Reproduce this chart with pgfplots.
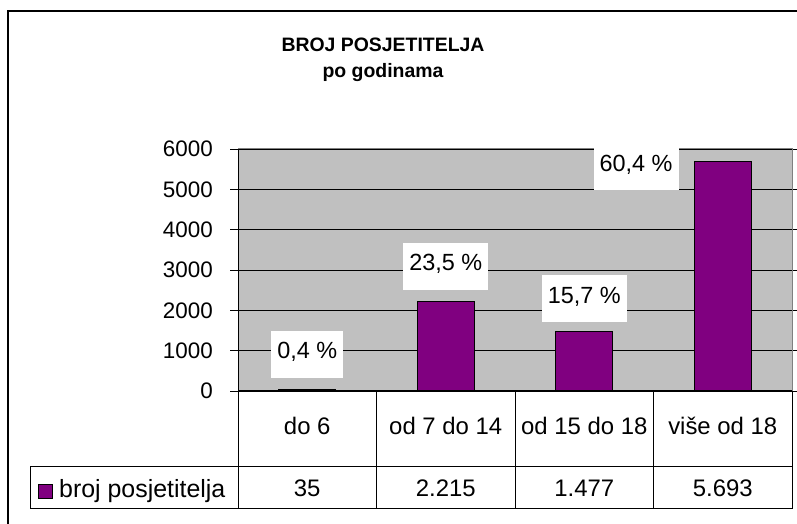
\documentclass[border=0pt]{standalone}
\usepackage{pgfplots}
\pgfplotsset{compat=1.18}
\usepackage{fontspec}
\setmainfont{Liberation Sans}
\definecolor{plotgray}{HTML}{C0C0C0}
\definecolor{barpurple}{HTML}{800080}
\definecolor{bordergray}{HTML}{808080}
\begin{document}
\begin{tikzpicture}[x=1bp,y=1bp]
\useasboundingbox (0,0) rectangle (797,524);
\begin{scope}
\clip (0,0) rectangle (797,524);
\draw[line width=2.4bp] (8,-5) -- (8,513) -- (810,513);
\end{scope}
\node[anchor=base, font=\fontsize{19.5}{22}\selectfont\bfseries] at (383,472) {BROJ POSJETITELJA};
\node[anchor=base, font=\fontsize{19.5}{22}\selectfont\bfseries] at (383,446) {po godinama};
\begin{axis}[
  at={(238bp,133bp)}, anchor=south west,
  scale only axis, width=554bp, height=242bp,
  xmin=-0.5, xmax=3.5, ymin=0, ymax=6000,
  ytick={0,1000,...,6000},
  xtick=\empty,
  tick align=outside,
  major tick length=8bp,
  ytick style={black, line width=0.8bp},
  yticklabel style={font=\fontsize{22.5}{25}\selectfont, anchor=east, inner sep=0pt, xshift=-17bp},
  /pgf/number format/assume math mode=true,
  /pgf/number format/set thousands separator={},
  axis background/.style={fill=plotgray},
  axis line style={bordergray, line width=1bp},
  ymajorgrids, major grid style={black, line width=0.8bp},
  clip=false,
]
\addplot[ybar, bar width=57bp, fill=barpurple, draw=black, line width=1.2bp]
  coordinates {(0,35) (1,2215) (2,1477) (3,5693)};
\addplot[draw=none, mark=none, forget plot, nodes near coords, point meta=explicit symbolic,
  every node near coord/.style={fill=white, text=black, anchor=center, font=\fontsize{23.5}{26}\selectfont,
     inner xsep=6bp, inner ysep=11bp, text height=17bp, text depth=8bp}]
  coordinates {(0,905) [{0,4 \%}] (1,3099) [{23,5 \%}] (2,2293) [{15,7 \%}] (2.374,5554) [{60,4 \%}]};
\draw[black, line width=1bp] (rel axis cs:0,0) -- (rel axis cs:0,1);
\draw[black, line width=1bp] (rel axis cs:0,0) -- (rel axis cs:1,0);
\end{axis}
% data table
\begin{scope}[line width=1bp]
\draw (30,57) -- (792,57);
\draw (30,15) -- (792,15);
\draw (30,57) -- (30,15);
\foreach \xx in {238,376.5,515,653.5,792} { \draw (\xx,133) -- (\xx,15); }
\end{scope}
\begin{scope}[font=\fontsize{24}{26}\selectfont]
\node[anchor=base] at (307.25,89) {do 6};
\node[anchor=base] at (445.75,89) {od 7 do 14};
\node[anchor=base] at (584.25,89) {od 15 do 18};
\node[anchor=base] at (722.75,89) {više od 18};
\node[anchor=base] at (307.25,27) {35};
\node[anchor=base] at (445.75,27) {2.215};
\node[anchor=base] at (584.25,27) {1.477};
\node[anchor=base] at (722.75,27) {5.693};
\filldraw[fill=barpurple, draw=black, line width=1bp] (38,25) rectangle (52,39);
\node[anchor=base west, inner sep=0pt, font=\fontsize{25}{27}\selectfont] at (59,26) {broj posjetitelja};
\end{scope}
\end{tikzpicture}
\end{document}
